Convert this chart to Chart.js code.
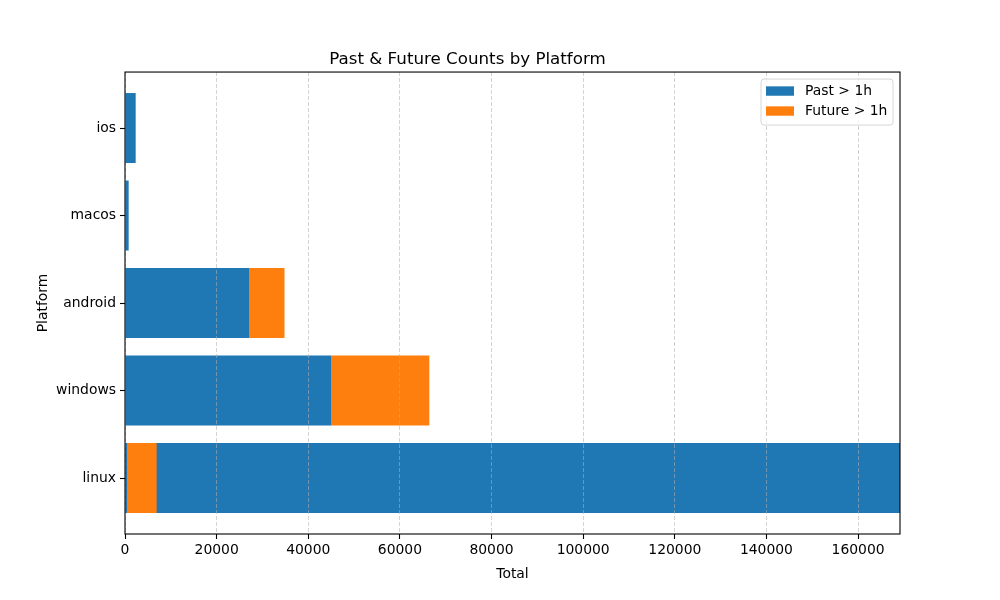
<!DOCTYPE html>
<html>
<head>
<meta charset="utf-8">
<script src="https://cdn.jsdelivr.net/npm/chart.js@4.4.1/dist/chart.umd.min.js"></script>
<style>
  html, body { margin: 0; padding: 0; background: #fff; }
  #wrap { width: 1000px; height: 600px; }
</style>
</head>
<body>
<div id="wrap"><canvas id="chart" width="1000" height="600"></canvas></div>
<script>
// ===== Data =====
const platforms = ['ios', 'macos', 'android', 'windows', 'linux'];
const pastCounts = [2330, 800, 27180, 45060, 440];
const futureCounts = [0, 0, 7630, 21360, 6470];
// second "linux" row in the source, runs past the right edge of the axis
const overflowPast = [null, null, null, null, 169150];
const xTicks = [0, 20000, 40000, 60000, 80000, 100000, 120000, 140000, 160000];
const xMax = 169150;

const BLUE = '#1f77b4';
const ORANGE = '#ff7f0e';

Chart.defaults.font.family = "'DejaVu Sans', sans-serif";
Chart.defaults.color = '#000';

const pastData = platforms.map((p, i) => ({ y: i, x: [0, pastCounts[i]] }));
const futureData = platforms.map((p, i) => futureCounts[i] ? ({ y: i, x: [pastCounts[i], pastCounts[i] + futureCounts[i]] }) : null).filter(Boolean);
const overflowData = platforms.map((p, i) => overflowPast[i] != null ? ({ y: i, x: [0, overflowPast[i]] }) : null).filter(Boolean);

// frame + legend box like matplotlib
const framePlugin = {
  id: 'frame',
  afterDraw(chart){
    const { ctx, chartArea: a } = chart;
    ctx.save();
    ctx.strokeStyle = '#000';
    ctx.lineWidth = 1.1;
    ctx.strokeRect(a.left, a.top, a.right - a.left, a.bottom - a.top);

    // legend
    const w = 132, h = 46;
    const x0 = a.right - 7 - w, y0 = a.top + 7;
    ctx.beginPath();
    if (ctx.roundRect) ctx.roundRect(x0, y0, w, h, 3); else ctx.rect(x0, y0, w, h);
    ctx.fillStyle = 'rgba(255,255,255,0.8)';
    ctx.fill();
    ctx.strokeStyle = '#d6d6d6';
    ctx.lineWidth = 1;
    ctx.stroke();
    const items = [['Past > 1h', BLUE], ['Future > 1h', ORANGE]];
    ctx.font = "13.9px 'DejaVu Sans', sans-serif";
    ctx.textBaseline = 'middle';
    items.forEach((it, k) => {
      const cy = y0 + 12 + k * 20;
      ctx.fillStyle = it[1];
      ctx.fillRect(x0 + 5, cy - 4.7, 28, 9.4);
      ctx.fillStyle = '#000';
      ctx.fillText(it[0], x0 + 44, cy);
    });
    ctx.restore();
  }
};

new Chart(document.getElementById('chart'), {
  type: 'bar',
  data: {
    datasets: [
      { label: 'Past > 1h', data: pastData, backgroundColor: BLUE, grouped: false, barPercentage: 0.8, categoryPercentage: 1 },
      { label: 'Future > 1h', data: futureData, backgroundColor: ORANGE, grouped: false, barPercentage: 0.8, categoryPercentage: 1 },
      { label: 'linux', data: overflowData, backgroundColor: BLUE, grouped: false, barPercentage: 0.8, categoryPercentage: 1 }
    ]
  },
  options: {
    indexAxis: 'y',
    responsive: false,
    animation: false,
    layout: { padding: { left: 35, right: 100, top: 0, bottom: 0 } },
    plugins: {
      legend: { display: false },
      tooltip: { enabled: false },
      title: {
        display: true,
        text: 'Past & Future Counts by Platform',
        font: { size: 16.7, weight: 'normal' },
        color: '#000',
        padding: { top: 50, bottom: 2 }
      }
    },
    scales: {
      x: {
        type: 'linear',
        min: 0,
        max: xMax,
        afterFit(s){ s.height = 66; },
        afterBuildTicks(s){ s.ticks = xTicks.map(v => ({ value: v })); },
        ticks: { font: { size: 13.9 }, padding: 3, maxRotation: 0, callback: v => String(v) },
        grid: { color: 'rgba(176,176,176,0.7)', lineWidth: 0.8, z: 1, tickLength: 5, tickColor: '#000', tickWidth: 1.1, tickBorderDash: [] },
        border: { display: false, dash: [4, 2] },
        title: { display: true, text: 'Total', font: { size: 13.9 }, padding: { top: 2, bottom: 17 } }
      },
      y: {
        type: 'linear',
        reverse: true,
        offset: false,
        min: -0.64,
        max: 4.64,
        afterFit(s){ s.width = 90; },
        afterBuildTicks(s){ s.ticks = platforms.map((p, i) => ({ value: i })); },
        ticks: { font: { size: 13.9 }, padding: 4, callback: v => platforms[v] },
        grid: { offset: false, drawOnChartArea: false, tickLength: 5, tickColor: '#000', tickWidth: 1.1 },
        border: { display: false },
        title: { display: true, text: 'Platform', font: { size: 13.9 }, padding: { top: 0 } }
      }
    }
  },
  plugins: [framePlugin]
});
</script>
</body>
</html>
